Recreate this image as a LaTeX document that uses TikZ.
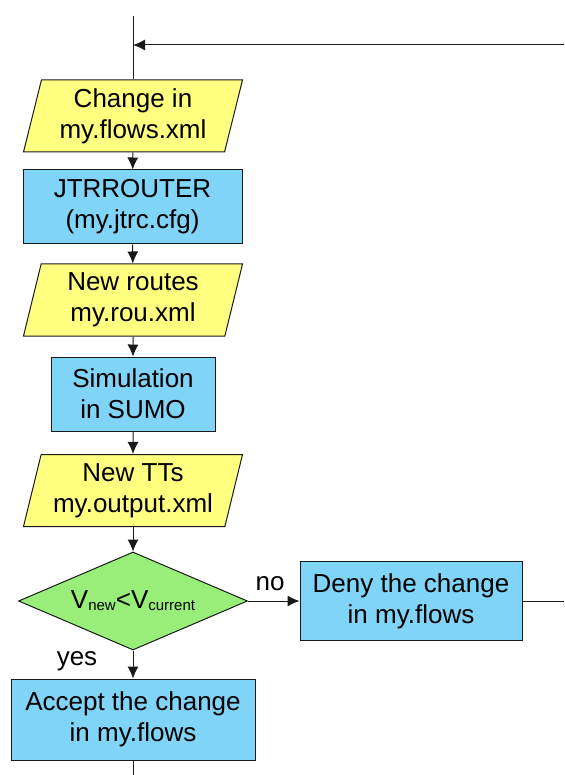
\documentclass[tikz,border=0pt]{standalone}
\usepackage{fontspec}
\setmainfont{Liberation Sans}
\usetikzlibrary{shapes.geometric}
\usetikzlibrary{arrows.meta}
\tikzset{>={Latex[length=12pt,width=11pt]}}
\definecolor{fileyellow}{HTML}{FFFF80}
\definecolor{procblue}{HTML}{7FD4F7}
\definecolor{decgreen}{HTML}{98EE78}
\newcommand{\lowtext}[1]{\raisebox{-2pt}{\fontsize{15}{15}\selectfont #1}}
\tikzset{
    base/.style={draw=black!90, line width=1pt, align=center, inner sep=0pt, text=black, font=\fontsize{26}{31}\selectfont},
    datafile/.style={base, trapezium, trapezium left angle=72, trapezium right angle=108, trapezium stretches body, fill=fileyellow, minimum width=219pt, minimum height=72pt},
    process/.style={base, rectangle, fill=procblue},
    decision/.style={base, diamond, aspect=2.33, fill=decgreen, minimum width=229pt, minimum height=98pt},
    flow/.style={line width=1pt, draw=black!90},
    answer/.style={text=black, font=\fontsize{26}{31}\selectfont}
}

\begin{document}
\begin{tikzpicture}[x=1pt, y=-1pt]
            \useasboundingbox (0, 0) rectangle (564, 775);
            
            \node[datafile] (flows) at (133, 116) {Change in\\my.flows.xml};
            \node[process, minimum width=219pt, minimum height=74pt] (jtr) at (132.5, 207) {JTRROUTER\\(my.jtrc.cfg)};
            \node[datafile] (routes) at (133, 300) {New routes\\my.rou.xml};
            \node[process, minimum width=164pt, minimum height=74pt] (sumo) at (133, 394) {Simulation\\in SUMO};
            \node[datafile] (tts) at (133, 490.5) {New TTs\\my.output.xml};
            \node[decision] (check) at (133, 601) {V\lowtext{new}<V\lowtext{current}};
            \node[process, minimum width=222pt, minimum height=79pt] (deny) at (411, 601) {Deny the change\\in my.flows};
            \node[process, minimum width=244pt, minimum height=81pt] (accept) at (133, 719.5) {Accept the change\\in my.flows};
            
            \node[answer] (no) at (270, 584) {no};
            \node[answer] (yes) at (77, 661) {yes};
            
            \coordinate (top) at (133, 16);
            \coordinate (loopin) at (133, 45);
            \coordinate (loopend) at (564, 45);
            \coordinate (denyend) at (564, 601);
            \coordinate (bottomend) at (133, 775);
            
            \draw[flow] (top) -- (flows);
            \draw[flow, ->] (loopend) -- (loopin);
            \foreach \a/\b in {flows/jtr, jtr/routes, routes/sumo, sumo/tts, tts/check, check/accept} {
                \draw[flow, ->] (\a) -- (\b);
            }
            \draw[flow, ->] (check) -- (deny);
            \draw[flow] (deny) -- (denyend);
            \draw[flow] (accept) -- (bottomend);
        \end{tikzpicture}
\end{document}
